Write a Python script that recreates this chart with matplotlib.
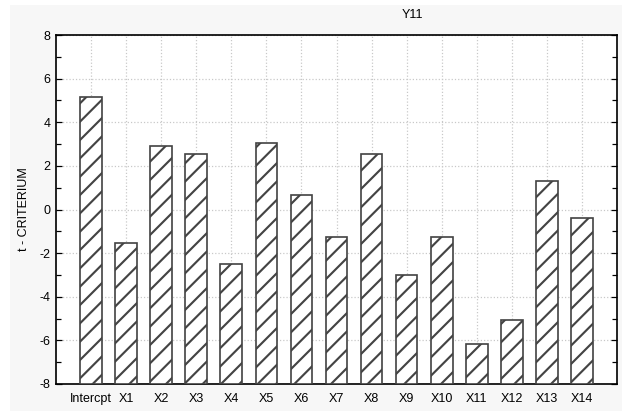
import matplotlib
matplotlib.use("Agg")
import matplotlib.pyplot as plt
from matplotlib.patches import Rectangle
from matplotlib.ticker import MultipleLocator

categories = ["Intercpt", "X1", "X2", "X3", "X4", "X5", "X6", "X7", "X8",
              "X9", "X10", "X11", "X12", "X13", "X14"]
t_values = [5.18, -1.55, 2.91, 2.54, -2.51, 3.03, 0.66, -1.25, 2.54,
            -3.02, -1.25, -6.15, -5.07, 1.31, -0.41]
base = -8.0

plt.rcParams['font.family'] = ['Liberation Sans', 'DejaVu Sans']
plt.rcParams['hatch.linewidth'] = 1.4
plt.rcParams['hatch.color'] = '#1a1a1a'
plt.rcParams['axes.unicode_minus'] = False

DPI = 110
fig = plt.figure(figsize=(622 / DPI, 415 / DPI), dpi=DPI, facecolor='white')
fig.patches.append(Rectangle((10 / 622, 1 - 411 / 415), 612 / 622, 406 / 415,
                             transform=fig.transFigure, facecolor='#f7f7f7',
                             edgecolor='none', zorder=-10))

ax = fig.add_axes([56 / 622, 1 - 384 / 415, 561 / 622, 349 / 415])
ax.set_facecolor('white')

x = list(range(len(categories)))
heights = [v - base for v in t_values]
ax.bar(x, heights, bottom=base, width=0.62, facecolor='white',
       edgecolor='#444444', linewidth=1.1, hatch='//', zorder=3)

ax.set_xlim(-1, 15)
ax.set_ylim(-8, 8)
ax.set_xticks(x)
ax.set_xticklabels(categories, fontsize=8.2)
ax.yaxis.set_major_locator(MultipleLocator(2))
ax.yaxis.set_minor_locator(MultipleLocator(1))
ax.tick_params(axis='x', length=0, pad=6)
ax.tick_params(axis='y', which='both', direction='in', left=True, right=True,
               labelsize=8.2, width=0.8)
ax.tick_params(axis='y', which='major', length=4)
ax.tick_params(axis='y', which='minor', length=3)
ax.grid(True, which='major', color='#c8c8c8', linestyle=':', linewidth=0.8, zorder=0)
ax.set_axisbelow(True)
for s in ax.spines.values():
    s.set_linewidth(1.1)
    s.set_color('black')

ax.set_ylabel("t - CRITERIUM", fontsize=8.2, labelpad=6)
fig.text(412 / 622, 1 - 15 / 415, "Y11", ha='center', va='center', fontsize=8.2)

fig.savefig("out.png", dpi=DPI, facecolor=fig.get_facecolor())
